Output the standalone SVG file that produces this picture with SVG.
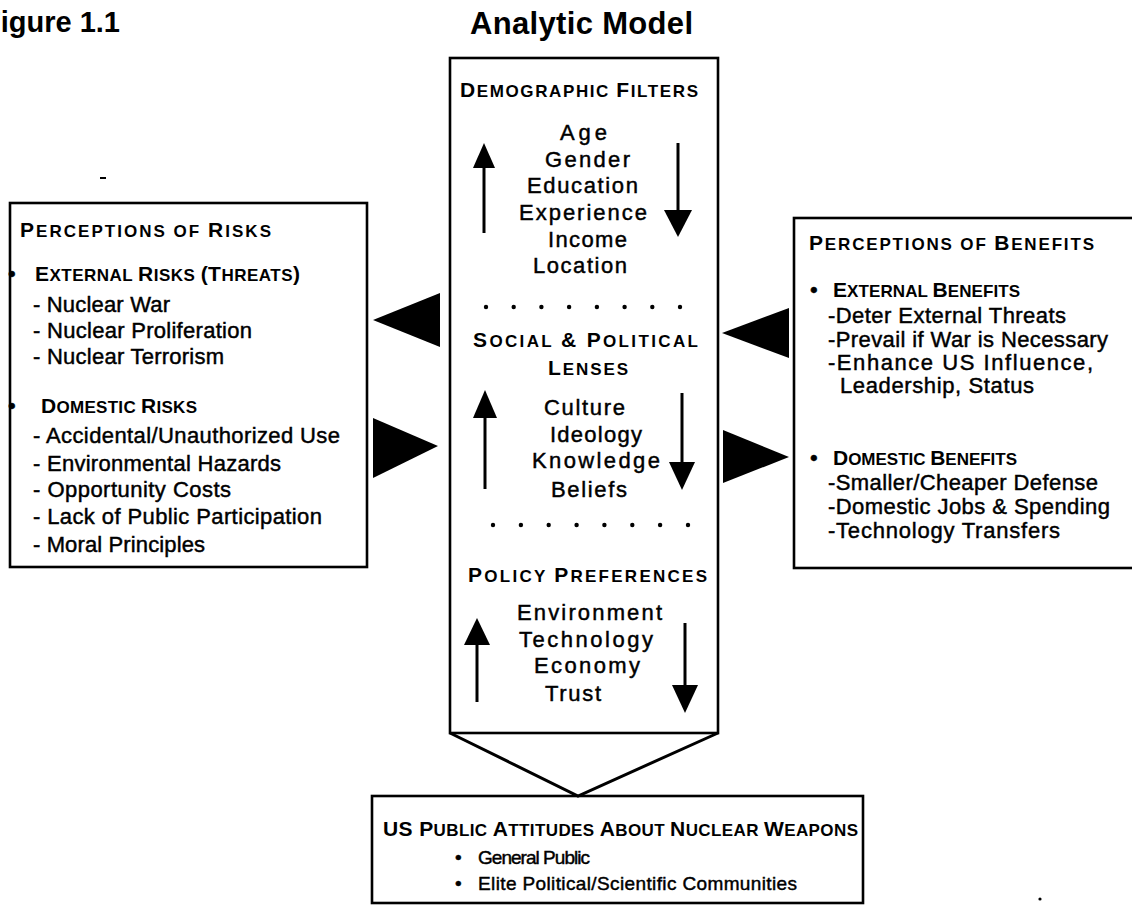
<svg xmlns="http://www.w3.org/2000/svg" width="1132" height="907" viewBox="0 0 1132 907">
<style>
text{font-family:"Liberation Sans",Arial,Helvetica,sans-serif;fill:#000}
.ttl{font-weight:bold}
.hd{font-weight:bold;font-size:17px}
.hd .b{font-size:21px}
.tx{font-size:22px;stroke:#000;stroke-width:0.45}
.sm{font-size:19px;stroke:#000;stroke-width:0.45}
.box{fill:#fff;stroke:#000;stroke-width:2.6}
.ln{stroke:#000;stroke-width:3;fill:none}
.ah{fill:#000}
</style>
<rect width="1132" height="907" fill="#fff"/>
<text class="ttl" x="-17" y="32" font-size="29">Figure 1.1</text>
<text class="ttl" x="470" y="34" textLength="223" font-size="31">Analytic Model</text>
<line x1="100" y1="178" x2="106" y2="178" stroke="#000" stroke-width="2"/>

<g id="risks">
<rect class="box" x="10" y="203" width="357" height="364"/>
<text class="hd" x="20" y="237" textLength="251"><tspan class="b">P</tspan>ERCEPTIONS OF <tspan class="b">R</tspan>ISKS</text>
<text class="tx" x="8" y="281">•</text>
<text class="hd" x="35" y="281" textLength="265"><tspan class="b">E</tspan>XTERNAL <tspan class="b">R</tspan>ISKS <tspan class="b">(T</tspan>HREATS<tspan class="b">)</tspan></text>
<text class="tx" x="33" y="312" textLength="137">- Nuclear War</text>
<text class="tx" x="33" y="338" textLength="219">- Nuclear Proliferation</text>
<text class="tx" x="33" y="364" textLength="191">- Nuclear Terrorism</text>
<text class="tx" x="8" y="413">•</text>
<text class="hd" x="41" y="413" textLength="156"><tspan class="b">D</tspan>OMESTIC <tspan class="b">R</tspan>ISKS</text>
<text class="tx" x="33" y="443" textLength="307">- Accidental/Unauthorized Use</text>
<text class="tx" x="33" y="471" textLength="248">- Environmental Hazards</text>
<text class="tx" x="33" y="497" textLength="198">- Opportunity Costs</text>
<text class="tx" x="33" y="524" textLength="289">- Lack of Public Participation</text>
<text class="tx" x="33" y="552" textLength="172">- Moral Principles</text>
</g>

<g id="benefits">
<rect class="box" x="794" y="218" width="350" height="350"/>
<text class="hd" x="809" y="250" textLength="285"><tspan class="b">P</tspan>ERCEPTIONS OF <tspan class="b">B</tspan>ENEFITS</text>
<text class="tx" x="810" y="297">•</text>
<text class="hd" x="833" y="297" textLength="187"><tspan class="b">E</tspan>XTERNAL <tspan class="b">B</tspan>ENEFITS</text>
<text class="tx" x="828" y="323" textLength="238">-Deter External Threats</text>
<text class="tx" x="828" y="347" textLength="280">-Prevail if War is Necessary</text>
<text class="tx" x="828" y="370" textLength="265">-Enhance US Influence,</text>
<text class="tx" x="840" y="393" textLength="194">Leadership, Status</text>
<text class="tx" x="810" y="465">•</text>
<text class="hd" x="833" y="465" textLength="184"><tspan class="b">D</tspan>OMESTIC <tspan class="b">B</tspan>ENEFITS</text>
<text class="tx" x="828" y="490" textLength="270">-Smaller/Cheaper Defense</text>
<text class="tx" x="828" y="514" textLength="282">-Domestic Jobs &amp; Spending</text>
<text class="tx" x="828" y="538" textLength="232">-Technology Transfers</text>
</g>

<g id="model">
<rect class="box" x="450" y="58" width="268" height="675"/>
<text class="hd" x="460" y="97" textLength="238"><tspan class="b">D</tspan>EMOGRAPHIC <tspan class="b">F</tspan>ILTERS</text>
<text class="tx" x="560" y="140" textLength="47">Age</text>
<text class="tx" x="545" y="167" textLength="85">Gender</text>
<text class="tx" x="527" y="193" textLength="111">Education</text>
<text class="tx" x="519" y="220" textLength="128">Experience</text>
<text class="tx" x="548" y="247" textLength="79">Income</text>
<text class="tx" x="533" y="273" textLength="94">Location</text>
<g fill="#000">
<circle cx="486" cy="307" r="2.2"/><circle cx="513.7" cy="307" r="2.2"/><circle cx="541.4" cy="307" r="2.2"/><circle cx="569.1" cy="307" r="2.2"/><circle cx="596.9" cy="307" r="2.2"/><circle cx="624.6" cy="307" r="2.2"/><circle cx="652.3" cy="307" r="2.2"/><circle cx="680" cy="307" r="2.2"/>
</g>
<text class="hd" x="473" y="347" textLength="225"><tspan class="b">S</tspan>OCIAL <tspan class="b">&amp; P</tspan>OLITICAL</text>
<text class="hd" x="548" y="375" textLength="80"><tspan class="b">L</tspan>ENSES</text>
<text class="tx" x="544" y="415" textLength="81">Culture</text>
<text class="tx" x="550" y="442" textLength="92">Ideology</text>
<text class="tx" x="532" y="468" textLength="128">Knowledge</text>
<text class="tx" x="551" y="497" textLength="76">Beliefs</text>
<g fill="#000">
<circle cx="493" cy="525" r="2.2"/><circle cx="520.9" cy="525" r="2.2"/><circle cx="548.7" cy="525" r="2.2"/><circle cx="576.6" cy="525" r="2.2"/><circle cx="604.4" cy="525" r="2.2"/><circle cx="632.3" cy="525" r="2.2"/><circle cx="660.1" cy="525" r="2.2"/><circle cx="688" cy="525" r="2.2"/>
</g>
<text class="hd" x="468" y="582" textLength="239"><tspan class="b">P</tspan>OLICY <tspan class="b">P</tspan>REFERENCES</text>
<text class="tx" x="517" y="620" textLength="145">Environment</text>
<text class="tx" x="519" y="647" textLength="134">Technology</text>
<text class="tx" x="534" y="673" textLength="106">Economy</text>
<text class="tx" x="545" y="701" textLength="56">Trust</text>
</g>

<g id="attitudes">
<rect class="box" x="372" y="796" width="491" height="107"/>
<text class="hd" x="383" y="836" textLength="475"><tspan class="b">US P</tspan>UBLIC <tspan class="b">A</tspan>TTITUDES <tspan class="b">A</tspan>BOUT <tspan class="b">N</tspan>UCLEAR <tspan class="b">W</tspan>EAPONS</text>
<text class="sm" x="455" y="864">•</text>
<text class="sm" x="478" y="864" font-size="18" textLength="112">General Public</text>
<text class="sm" x="455" y="890">•</text>
<text class="sm" x="478" y="890" font-size="18" textLength="319">Elite Political/Scientific Communities</text>
</g>

<g id="dot-mark"><circle cx="1040" cy="899" r="1.6" fill="#000"/></g>

<g id="connectors">
<polygon class="ah" points="373,320 440,293 440,347"/>
<polygon class="ah" points="373,418 438,446 373,478"/>
<polygon class="ah" points="722,333 789,308 789,358"/>
<polygon class="ah" points="723,430 789,457 723,483"/>
<polyline class="ln" points="450,733 578,796 718,733" stroke-width="2.6"/>
<line class="ln" x1="484" y1="233" x2="484" y2="162"/>
<polygon class="ah" points="484,143 473,168 495,168"/>
<line class="ln" x1="678" y1="143" x2="678" y2="215"/>
<polygon class="ah" points="664,210 692,210 678,237"/>
<line class="ln" x1="485" y1="489" x2="485" y2="410"/>
<polygon class="ah" points="485,390 473,418 497,418"/>
<line class="ln" x1="682" y1="393" x2="682" y2="468"/>
<polygon class="ah" points="669,462 695,462 682,490"/>
<line class="ln" x1="477" y1="702" x2="477" y2="638"/>
<polygon class="ah" points="477,618 464,645 490,645"/>
<line class="ln" x1="685" y1="623" x2="685" y2="690"/>
<polygon class="ah" points="672,685 698,685 685,713"/>
</g>
</svg>
